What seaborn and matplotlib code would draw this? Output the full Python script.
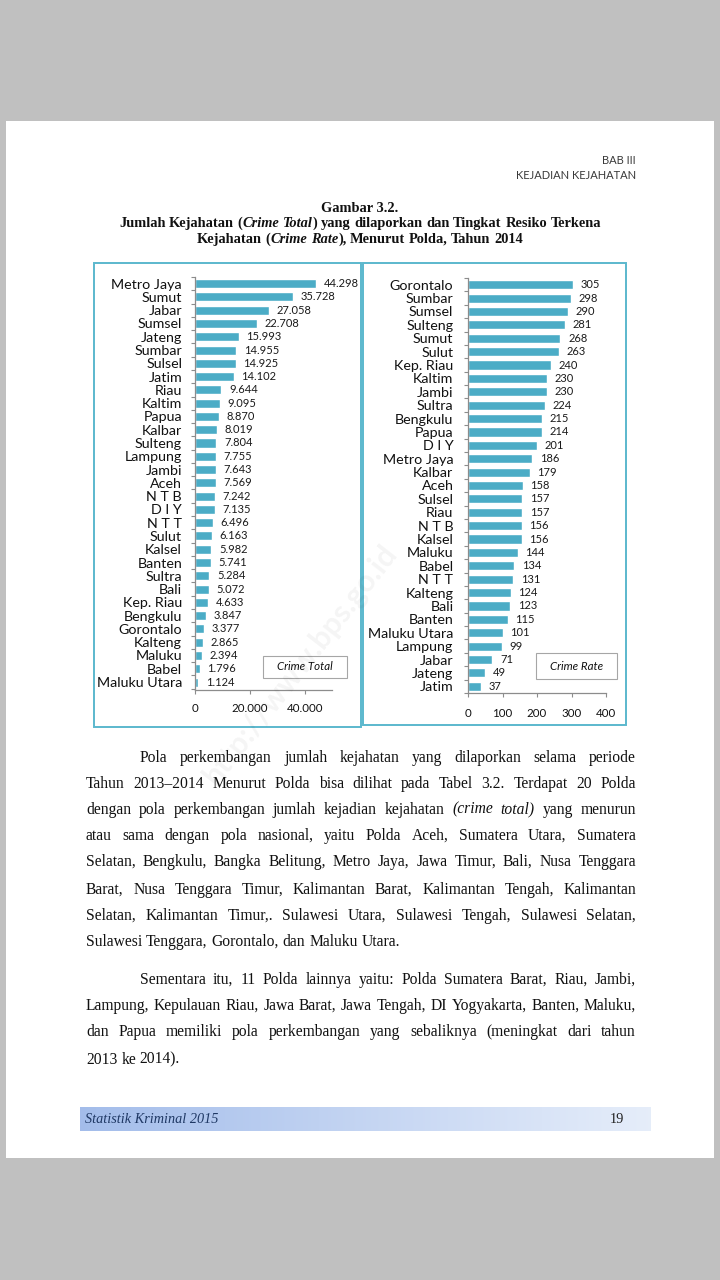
import matplotlib
matplotlib.use("Agg")
import matplotlib.pyplot as plt
from matplotlib.patches import Rectangle
import numpy as np
import pandas as pd
import seaborn as sns

# ---------------- data ----------------
total_polda = ["Metro Jaya", "Sumut", "Jabar", "Sumsel", "Jateng", "Sumbar", "Sulsel",
               "Jatim", "Riau", "Kaltim", "Papua", "Kalbar", "Sulteng", "Lampung", "Jambi",
               "Aceh", "N T B", "D I Y", "N T T", "Sulut", "Kalsel", "Banten", "Sultra",
               "Bali", "Kep. Riau", "Bengkulu", "Gorontalo", "Kalteng", "Maluku", "Babel",
               "Maluku Utara"]
total_values = [44298, 35728, 27058, 22708, 15993, 14955, 14925, 14102, 9644, 9095, 8870,
                8019, 7804, 7755, 7643, 7569, 7242, 7135, 6496, 6163, 5982, 5741, 5284,
                5072, 4633, 3847, 3377, 2865, 2394, 1796, 1124]

rate_polda = ["Gorontalo", "Sumbar", "Sumsel", "Sulteng", "Sumut", "Sulut", "Kep. Riau",
              "Kaltim", "Jambi", "Sultra", "Bengkulu", "Papua", "D I Y", "Metro Jaya",
              "Kalbar", "Aceh", "Sulsel", "Riau", "N T B", "Kalsel", "Maluku", "Babel",
              "N T T", "Kalteng", "Bali", "Banten", "Maluku Utara", "Lampung", "Jabar",
              "Jateng", "Jatim"]
rate_values = [305, 298, 290, 281, 268, 263, 240, 230, 230, 224, 215, 214, 201, 186, 179,
               158, 157, 157, 156, 156, 144, 134, 131, 124, 123, 115, 101, 99, 71, 49, 37]

total_xticks = [0, 20000, 40000]
total_xticklabels = ["0", "20.000", "40.000"]
rate_xticks = [0, 100, 200, 300, 400]
rate_xticklabels = ["0", "100", "200", "300", "400"]

header_lines = ["BAB III", "KEJADIAN KEJAHATAN"]
fig_number = "Gambar 3.2."
title_line2 = [("Jumlah Kejahatan (", "normal"), ("Crime Total", "italic"),
               (") yang dilaporkan dan Tingkat Resiko Terkena", "normal")]
title_line3 = [("Kejahatan (", "normal"), ("Crime Rate", "italic"),
               ("), Menurut Polda, Tahun 2014", "normal")]

para1 = [
    "Pola perkembangan jumlah kejahatan yang dilaporkan selama periode",
    "Tahun 2013\u20132014 Menurut Polda bisa dilihat pada Tabel 3.2. Terdapat 20 Polda",
    "dengan pola perkembangan jumlah kejadian kejahatan _(crime _total) yang menurun",
    "atau sama dengan pola nasional, yaitu Polda Aceh, Sumatera Utara, Sumatera",
    "Selatan, Bengkulu, Bangka Belitung, Metro Jaya, Jawa Timur, Bali, Nusa Tenggara",
    "Barat, Nusa Tenggara Timur, Kalimantan Barat, Kalimantan Tengah, Kalimantan",
    "Selatan, Kalimantan Timur,. Sulawesi Utara, Sulawesi Tengah, Sulawesi Selatan,",
    "Sulawesi Tenggara, Gorontalo, dan Maluku Utara.",
]
para2 = [
    "Sementara itu, 11 Polda lainnya yaitu: Polda Sumatera Barat, Riau, Jambi,",
    "Lampung, Kepulauan Riau, Jawa Barat, Jawa Tengah, DI Yogyakarta, Banten, Maluku,",
    "dan Papua memiliki pola perkembangan yang sebaliknya (meningkat dari tahun",
    "2013 ke 2014).",
]
footer_left = "Statistik Kriminal 2015"
footer_right = "19"

# ---------------- setup ----------------
W, H = 720, 1280
sns.set_theme(style="ticks")
SANS = ["Lato", "DejaVu Sans"]
SERIF = ["Liberation Serif", "DejaVu Serif"]
plt.rcParams["font.family"] = SANS

BAR = "#4bacc6"
BOX = "#5bb8cd"
GRAY = "#8c8c8c"

fig = plt.figure(figsize=(7.2, 12.8), dpi=100, facecolor="#c0c0c0")
R = fig.canvas.get_renderer()


def fx(x):
    return x / W


def fy(y):
    return 1 - y / H


def fy_base(y):
    # snap baseline to an integer pixel to avoid rounding jitter between words
    return fy(round(y) - 0.2)


def width_of(s, **kw):
    t = fig.text(0, 0, "x" + s + "x", **kw)
    w = t.get_window_extent(R).width
    t.remove()
    t2 = fig.text(0, 0, "xx", **kw)
    w2 = t2.get_window_extent(R).width
    t2.remove()
    return w - w2


def fit(s, target, **kw):
    return 10.0 * target / width_of(s, fontsize=10, **kw)


def rect(x0, y0, x1, y1, **kw):
    r = Rectangle((fx(x0), fy(y1)), (x1 - x0) / W, (y1 - y0) / H,
                  transform=fig.transFigure, **kw)
    fig.add_artist(r)
    return r


# page
rect(6, 121, 714, 1158, facecolor="white", edgecolor="none", zorder=-5)

# ---------------- header ----------------
hs = fit(header_lines[1], 120, family=SANS)
fig.text(fx(636), fy_base(164), header_lines[0], ha="right", va="baseline", fontsize=hs,
         family=SANS, color="#3a3a3a")
fig.text(fx(636), fy_base(179), header_lines[1], ha="right", va="baseline", fontsize=hs,
         family=SANS, color="#3a3a3a")


# ---------------- title ----------------
def seg_draw(segments, y, size, center, weight="bold", family=SERIF, color="#111111"):
    toks = []
    for text, style in segments:
        if text.startswith(" ") and toks:
            toks[-1][2] = True
        parts = [p for p in text.split(" ") if p != ""]
        for i, p in enumerate(parts):
            toks.append([p, style, i < len(parts) - 1])
        if text.endswith(" ") and toks:
            toks[-1][2] = True
    sw = width_of(" ", fontsize=size, family=family, weight=weight)
    widths = [width_of(t[0], fontsize=size, family=family, weight=weight, style=t[1])
              for t in toks]
    total = sum(widths) + sum(sw for t in toks[:-1] if t[2])
    x = center - total / 2
    for (t, st, sp), w in zip(toks, widths):
        fig.text(fx(x), fy_base(y + 4), t, ha="left", va="baseline", fontsize=size,
                 family=family, weight=weight, style=st, color=color)
        x += w + (sw if sp else 0)


def seg_text(segments):
    return "".join(s for s, _ in segments)


ts = fit(seg_text(title_line2), 485, family=SERIF, weight="bold")
fig.text(fx(360), fy_base(212), fig_number, ha="center", va="baseline", fontsize=ts,
         family=SERIF, weight="bold", color="#111111")
seg_draw(title_line2, 223, ts, center=360)
seg_draw(title_line3, 239, ts, center=360)

# ---------------- charts ----------------
rect(94, 263, 361, 727, facecolor="none", edgecolor=BOX, lw=1.4, zorder=1)
rect(363, 263, 626, 725, facecolor="none", edgecolor=BOX, lw=1.4, zorder=1)

lab_size = fit("Maluku Utara", 85, family=SANS)
val_size = fit("44.298", 35, family=SANS)
tick_size = fit("20.000", 36, family=SANS)


def fmt(v):
    return f"{v:,}".replace(",", ".")


def make_chart(pos, cats, vals, xlim, ylim, xticks, xticklabels, bar_w, ypad, xpad, colname):
    x0, y0, x1, y1 = pos
    ax = fig.add_axes([fx(x0), fy(y1), (x1 - x0) / W, (y1 - y0) / H])
    ax.set_facecolor("none")
    df = pd.DataFrame({"Polda": cats, colname: vals})
    sns.barplot(data=df, x=colname, y="Polda", orient="h", color=BAR, saturation=1,
                width=bar_w, ax=ax)
    ax.bar_label(ax.containers[0], labels=[fmt(v) for v in vals], padding=5.5,
                 fontsize=val_size, color="#1a1a1a")
    ax.set_xlim(*xlim)
    ax.set_ylim(*ylim)
    ax.set_xlabel("")
    ax.set_ylabel("")
    for s in ("top", "right"):
        ax.spines[s].set_visible(False)
    for s in ("left", "bottom"):
        ax.spines[s].set_color(GRAY)
        ax.spines[s].set_linewidth(0.9)
    ax.set_xticks(xticks, xticklabels)
    ax.tick_params(axis="x", length=3, width=0.8, color=GRAY, pad=xpad,
                   labelsize=tick_size, labelcolor="#111111")
    ax.tick_params(axis="y", which="major", length=0, pad=ypad, labelsize=lab_size,
                   labelcolor="#111111")
    ax.set_yticks(np.arange(-0.5, len(cats), 1), minor=True)
    ax.tick_params(axis="y", which="minor", length=3, width=0.8, color=GRAY, left=True)
    return ax


ax1 = make_chart((195, 277, 332, 690), total_polda, total_values, (0, 50000), (30.6, -0.5),
                 total_xticks, total_xticklabels, 0.68, 9.3, 6, "Crime Total")
ax2 = make_chart((468, 278, 606, 693), rate_polda, rate_values, (0, 400), (30.45, -0.5),
                 rate_xticks, rate_xticklabels, 0.68, 10.5, 7.5, "Crime Rate")

# legend-like boxes
leg_size = fit("Crime Total", 56, family=SANS, style="italic")
rect(263, 656, 347, 678, facecolor="white", edgecolor="#a6a6a6", lw=0.8, zorder=4)
fig.text(fx(305), fy(667), "Crime Total", ha="center", va="center", fontsize=leg_size,
         style="italic", family=SANS, color="#111111", zorder=5)
rect(536, 653, 617, 679, facecolor="white", edgecolor="#a6a6a6", lw=0.8, zorder=4)
fig.text(fx(576.5), fy(666), "Crime Rate", ha="center", va="center", fontsize=leg_size,
         style="italic", family=SANS, color="#111111", zorder=5)

# ---------------- body text ----------------
bs = fit(para1[-1], 314, family=SERIF)
space_w = width_of(" ", fontsize=bs, family=SERIF)


def body_line(line, y, left, right, justify):
    toks = []
    for w in line.split(" "):
        if w.startswith("_"):
            toks.append((w[1:], "italic"))
        else:
            toks.append((w, "normal"))
    widths = [width_of(t, fontsize=bs, family=SERIF, style=st) for t, st in toks]
    if justify and len(toks) > 1:
        gap = (right - left - sum(widths)) / (len(toks) - 1)
        gap = max(gap, 0.6 * space_w)
    else:
        gap = space_w
    x = left
    for (t, st), w in zip(toks, widths):
        fig.text(fx(x), fy_base(y + 4.5), t, ha="left", va="baseline", fontsize=bs,
                 family=SERIF, style=st, color="#111111")
        x += w + gap


ys1 = [757, 783, 809, 836, 862, 889, 915, 942]
for i, (line, y) in enumerate(zip(para1, ys1)):
    body_line(line, y, 140 if i == 0 else 86, 636, i < len(para1) - 1)
ys2 = [979, 1006, 1032, 1059]
for i, (line, y) in enumerate(zip(para2, ys2)):
    body_line(line, y, 140 if i == 0 else 86, 636, i < len(para2) - 1)

# ---------------- footer ----------------
fax = fig.add_axes([fx(80), fy(1131), (651 - 80) / W, (1131 - 1107) / H], zorder=1)
grad = np.linspace(0, 1, 256)
c0 = np.array([0.64, 0.74, 0.92])
c1 = np.array([0.90, 0.93, 0.98])
img = c0[None, None, :] * (1 - grad[None, :, None]) + c1[None, None, :] * grad[None, :, None]
fax.imshow(img, aspect="auto", extent=(0, 1, 0, 1))
fax.set_axis_off()
fs = fit(footer_left, 133, family=SERIF, style="italic")
fig.text(fx(85), fy_base(1123), footer_left, ha="left", va="baseline", fontsize=fs,
         family=SERIF, style="italic", color="#1f3864", zorder=5)
fig.text(fx(617), fy_base(1123), footer_right, ha="center", va="baseline", fontsize=fs,
         family=SERIF, color="#222222", zorder=5)

# ---------------- watermark ----------------
fig.text(fx(300), fy(665), "http://www.bps.go.id", rotation=52, ha="center", va="center",
         fontsize=22, weight="bold", family=SANS, color="black", alpha=0.045, zorder=20)

fig.savefig("out.png", dpi=100, facecolor=fig.get_facecolor())
